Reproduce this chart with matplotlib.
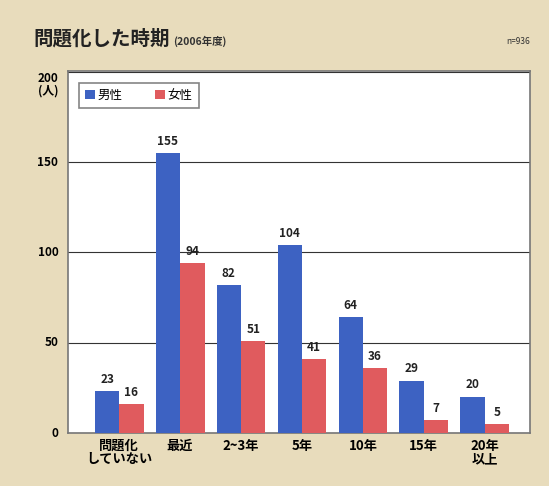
import numpy as np
import matplotlib.pyplot as plt

plt.rcParams['font.family'] = ['Noto Sans CJK JP', 'DejaVu Sans']

categories = ['問題化\nしていない', '最近', '2~3年', '5年', '10年', '15年', '20年\n以上']
male = [23, 155, 82, 104, 64, 29, 20]
female = [16, 94, 51, 41, 36, 7, 5]

bg = '#e8dcbc'
blue = '#3d62c2'
red = '#e05b5e'

fig = plt.figure(figsize=(5.49, 4.86), dpi=100, facecolor=bg)
ax = fig.add_axes([0.124, 0.109, 0.841, 0.745])
ax.set_facecolor('white')

x = np.arange(len(categories))
w = 0.4
b1 = ax.bar(x - w / 2, male, w, color=blue, label='男性', zorder=3)
b2 = ax.bar(x + w / 2, female, w, color=red, label='女性', zorder=3)

for bars in (b1, b2):
    for r in bars:
        ax.text(r.get_x() + r.get_width() / 2, r.get_height() + 3, str(int(r.get_height())),
                ha='center', va='bottom', fontsize=8.5, fontweight='bold', color='#222222', zorder=4)

ax.set_xlim(-0.84, 6.74)
ax.set_ylim(0, 200.5)
ax.set_yticks([0, 50, 100, 150, 200])
ax.set_yticklabels(['0', '50', '100', '150', '200\n(人)'], fontsize=8.5, fontweight='bold',
                   linespacing=0.95)
ax.set_xticks(x)
ax.set_xticklabels(categories, fontsize=9.5, fontweight='bold', linespacing=0.95)
ax.tick_params(length=0, pad=4)
ax.tick_params(axis='y', pad=7)
for t in ax.get_yticklabels():
    t.set_verticalalignment('center')
ax.get_yticklabels()[-1].set_verticalalignment('top')
ax.get_yticklabels()[-1].set_y(203)
ax.grid(axis='y', color='#333333', linewidth=0.8, zorder=1)
for s in ax.spines.values():
    s.set_color('#777777')
    s.set_linewidth(1.2)

leg = ax.legend(loc='upper left', bbox_to_anchor=(0.01, 0.985), ncol=2, fontsize=9,
                handlelength=0.8, handleheight=0.8, handletextpad=0.2, columnspacing=2.6,
                frameon=True, fancybox=False, edgecolor='#666666', borderpad=0.5)
leg.get_frame().set_linewidth(1.2)

fig.text(0.06, 0.92, '問題化した時期', fontsize=14, fontweight='bold', color='#222222', va='center')
fig.text(0.315, 0.915, '(2006年度)', fontsize=7.5, fontweight='bold', color='#333333', va='center')
fig.text(0.965, 0.915, 'n=936', fontsize=6, color='#333333', va='center', ha='right')

fig.savefig('out.png', dpi=100, facecolor=bg)
